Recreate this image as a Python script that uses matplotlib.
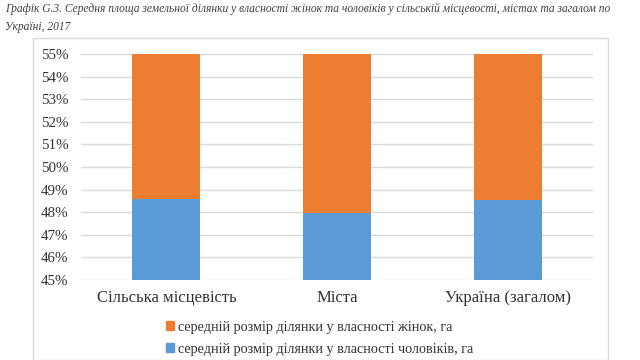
import matplotlib
matplotlib.use("Agg")
import matplotlib.pyplot as plt
from matplotlib.patches import Rectangle, Patch
from matplotlib.ticker import FuncFormatter

categories = ["Сільська місцевість", "Міста", "Україна (загалом)"]
men_share = [48.6, 47.95, 48.55]
women_share = [100 - v for v in men_share]
series_names = ["середній розмір ділянки у власності жінок, га",
                "середній розмір ділянки у власності чоловіків, га"]
title = ("Графік G.3. Середня площа земельної ділянки у власності жінок та чоловіків у сільській місцевості, містах та загалом по\n"
         "Україні, 2017")

plt.rcParams['font.family'] = ['Liberation Serif', 'DejaVu Serif']

fig = plt.figure(figsize=(6.4, 3.6), dpi=100)
fig.patch.set_facecolor('white')

# chart frame
fig.patches.append(Rectangle((33/640, 0), (608-33)/640, (360-38)/360 + 0.0,
                             transform=fig.transFigure, fill=False,
                             edgecolor='#d9d9d9', linewidth=1.0, zorder=0))

ax = fig.add_axes([81/640, (360-280)/360, (593-81)/640, (280-54)/360])
x = range(len(categories))
blue = '#5B9BD5'
orange = '#ED7D31'
ax.bar(x, men_share, width=0.4, color=blue, zorder=3)
ax.bar(x, women_share, width=0.4, bottom=men_share, color=orange, zorder=3)

ax.set_ylim(45, 55)
ax.set_xlim(-0.5, 2.5)
ax.set_yticks(range(45, 56))
ax.yaxis.set_major_formatter(FuncFormatter(lambda v, p: f"{int(round(v))}%"))
ax.grid(axis='y', color='#d9d9d9', linewidth=1.0, zorder=0)
for s in ax.spines.values():
    s.set_visible(False)
ax.tick_params(axis='both', length=0, colors='#333333')
ax.tick_params(axis='y', labelsize=10.8, pad=9)
ax.tick_params(axis='x', labelsize=12, pad=7)
ax.set_xticks(list(x))
ax.set_xticklabels(categories)

handles = [Patch(color=orange), Patch(color=blue)]
fig.legend(handles, series_names, loc='upper left',
           bbox_to_anchor=(153/640, 1 - 308/360), frameon=False,
           fontsize=10.2, handlelength=0.6, handleheight=0.6,
           handletextpad=0.25, labelspacing=0.65, labelcolor='#333333')

fig.text(5/640, 1 - 3/360, title, ha='left', va='top', fontsize=8.3,
         style='italic', color='#404040', linespacing=1.6)

fig.savefig("out.png", dpi=100, facecolor='white')
